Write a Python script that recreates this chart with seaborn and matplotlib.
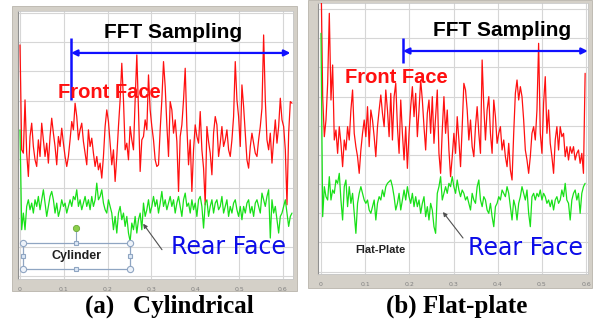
import numpy as np
import pandas as pd
import matplotlib
matplotlib.use("Agg")
import matplotlib.pyplot as plt
import seaborn as sns
from matplotlib.patches import Rectangle
from matplotlib.ticker import MultipleLocator

# ---------------- data ----------------
front_a = [69.5, 38, 37, 53, 37, 30, 42, 46, 39, 35, 33, 41, 36, 46, 41, 36, 40, 34, 42, 47.5,
           43, 39, 33.5, 42, 39, 44.5, 40, 36, 33, 36, 41, 46.5, 44, 52, 48, 41, 44, 46, 40.5, 37,
           33.5, 44, 39, 41.5, 37, 33, 36, 32, 34, 29.5, 36, 45, 50, 46.5, 40, 33.5, 38, 28.5, 36, 45,
           53, 64, 53, 38, 40, 35, 45, 41, 38, 53, 66.5, 50, 31.5, 41, 42, 47, 44, 60.5, 50, 45,
           41, 35, 33, 33.5, 44, 53, 64.5, 57, 45.5, 36, 52.5, 50, 43, 47, 40.5, 25.5, 42, 45.5, 53, 62.5,
           45, 33.5, 41, 25.5, 38, 45.5, 42, 40, 49.5, 38, 32.5, 21.5, 45, 40.5, 37, 30.5, 43, 48, 45.5, 36,
           40, 45, 39, 41, 44, 38, 36, 41, 48, 64.5, 53, 48, 39, 57.5, 51, 43, 35, 32.5, 39, 43,
           40, 37, 36, 41, 45, 50.5, 72.5, 53, 41, 38, 43, 34, 41, 47, 40, 45, 53.5, 47, 45, 38,
           21.5, 43, 52.5, 52]
rear_a = [44, 14, 19, 14, 21, 23, 20, 22, 19, 23, 21, 24, 20, 23, 26, 22, 18, 21, 24, 25.5,
          23, 19, 22, 18, 20, 23, 21, 22, 19, 21, 23, 21, 24, 23, 26, 21, 23, 20, 22, 24,
          21, 23, 20, 24, 21, 23, 28, 23, 24, 26, 22, 20, 19, 23, 21, 19, 14, 18, 13, 19,
          21, 17, 19, 15, 18, 13, 10.5, 16, 14, 18, 13, 17, 19, 14, 22, 18, 20, 23, 19, 21,
          24, 21, 23, 19, 22, 25.5, 21, 23, 20, 22, 24, 21, 23, 19, 22, 24, 21, 18, 23, 25,
          21, 22, 19, 23, 20, 22, 18, 23, 24, 21, 14.5, 22, 23, 18, 21, 23, 19, 22, 23, 20,
          21, 24, 19, 21, 23, 18, 21, 19, 22, 23, 20, 18, 21, 17, 21, 19, 22, 23, 19, 21,
          18, 22, 23, 21, 19, 25, 23, 21, 24, 26, 11.5, 23, 19, 21, 17, 13, 18, 19, 21, 23,
          19, 15, 18, 19]
front_b = [90, 52.5, 40.5, 45.5, 56.5, 77.5, 51.5, 62, 39.5, 42.5, 35.5, 43.5, 38.5, 31.5, 39.5, 36.5,
           43.5, 39.5, 48.5, 54.5, 41.5, 37.5, 34.5, 29.5, 36.5, 41.5, 45.5, 40.5, 49.5, 37.5, 48.5, 45.5,
           40.5, 34.5, 43.5, 48.5, 53, 47.5, 43.5, 54.5, 48.5, 40.5, 53.5, 39.5, 52.5, 56.5, 43.5, 35.5,
           51.5, 41.5, 33.5, 43.5, 31, 41.5, 49.5, 55.5, 46.5, 53.5, 40.5, 48.5, 57.5, 51.5, 43.5, 36.5,
           47.5, 51.5, 41.5, 52.5, 38.5, 46.5, 54.5, 35.5, 29.5, 42.5, 52.5, 41.5, 48.5, 36.5, 28.5, 34.5,
           41.5, 35.5, 46.5, 39.5, 31.5, 43.5, 56.5, 54.5, 48.5, 39.5, 45.5, 37.5, 34.5, 43.5, 49.5, 41.5,
           35.5, 63.5, 49.5, 39.5, 48.5, 52.5, 41.5, 35.5, 51.5, 46.5, 38.5, 41.5, 43.5, 36.5, 39.5, 34.5,
           31.5, 38.5, 30.5, 27.5, 41.5, 53.5, 57.5, 51.5, 55.5, 52.5, 45.5, 36.5, 33.5, 29.5, 34.5, 41.5,
           43.5, 39.5, 48.5, 68.5, 41.5, 35.5, 50.5, 58.5, 41.5, 48.5, 38.5, 34.5, 29.5, 39.5, 43.5, 36.5,
           43.5, 40.5, 41.5, 34.5, 37.5, 33.5, 37.5, 35.5, 37.5, 33.5, 35.5, 36.5, 32.5, 35.5, 29.5, 59.5]
rear_b = [71.5, 16.5, 25.5, 22.5, 21.5, 28.5, 21.5, 24.5, 23.5, 27.5, 26.5, 29.5, 21.5, 15.5, 25.5, 27.5,
          19.5, 25.5, 20.5, 23.5, 17.5, 11.5, 20.5, 23.5, 25.5, 23.5, 21.5, 20.5, 21.5, 18.5, 17.5, 19.5,
          21.5, 15.5, 20.5, 22.5, 21.5, 24.5, 22.5, 25.5, 26.5, 27, 27.5, 25.5, 22.5, 18.5, 20.5, 23.5,
          18.5, 21.5, 24.5, 21.5, 25.5, 22.5, 20.5, 23.5, 19.5, 22.5, 19.5, 21.5, 17.5, 20.5, 22.5, 16.5,
          19.5, 15.5, 20.5, 18.5, 13.5, 11.5, 23.5, 25.5, 28.5, 21.5, 23.5, 25.5, 23.5, 26.5, 25.5, 28.5,
          25.5, 23.5, 27.5, 24.5, 22.5, 24.5, 23.5, 21.5, 22.5, 20.5, 18.5, 23.5, 21.5, 20.5, 25.5, 27.5,
          21.5, 19.5, 22.5, 21.5, 18.5, 17.5, 20.5, 16.5, 13.5, 19.5, 20.5, 22.5, 21.5, 24.5, 23.5, 22.5,
          25.5, 23.5, 19.5, 15.5, 21.5, 19.5, 15.5, 20.5, 22.5, 25.5, 23.5, 21.5, 24.5, 17.5, 13.5, 22.5,
          23.5, 21.5, 23.5, 22.5, 24.5, 21.5, 23.5, 22.5, 20.5, 21.5, 19.5, 21.5, 18.5, 21.5, 22.5, 20.5,
          21.5, 24.5, 22.5, 26.5, 21.5, 20.5, 15.5, 21.5, 23.5, 24.5, 21.5, 23.5, 17.5, 23.5, 25.5, 26.5]
t_end_a = 0.6207   # last sample time (s), panel a
t_end_b = 0.598    # last sample time (s), panel b
x_ticks = [0, 0.1, 0.2, 0.3, 0.4, 0.5, 0.6]
x_tick_labels = ["0", "0.1", "0.2", "0.3", "0.4", "0.5", "0.6"]
captions = ["(a)   Cylindrical", "(b) Flat-plate"]
shape_labels = ["Cylinder", "Flat-Plate"]

# ---------------- style ----------------
sns.set_style("white")
plt.rcParams['font.family'] = ['DejaVu Sans']
BOLD_SANS = ['Liberation Sans', 'DejaVu Sans']

W, H = 593, 324
fig = plt.figure(figsize=(W / 100, H / 100), dpi=100)
fig.patch.set_facecolor('white')


def frac(x0, y0, x1, y1):
    return [x0 / W, 1 - y1 / H, (x1 - x0) / W, (y1 - y0) / H]


# grey window frames (behind the axes)
for (x0, y0, x1, y1) in [(12, 6, 297, 291), (308, 0, 592, 288)]:
    fig.patches.append(Rectangle((x0 / W, 1 - y1 / H), (x1 - x0) / W, (y1 - y0) / H,
                                 transform=fig.transFigure, facecolor='#d4d0c8',
                                 edgecolor='#b8b4ac', lw=0.6, zorder=-5))

axA = fig.add_axes(frac(18, 11, 293, 279), zorder=2)
axB = fig.add_axes(frac(318, 3, 588, 274), zorder=2)

RED = '#ff1010'
GREEN = '#19e019'
BLUE = '#1010ff'


def setup(ax, xlim, ylim, grid_step):
    ax.set_facecolor('white')
    ax.set_xlim(*xlim)
    ax.set_ylim(*ylim)
    ax.set_xticks(x_ticks)
    ax.set_xticklabels(x_tick_labels)
    ax.xaxis.set_minor_locator(MultipleLocator(0.02))
    ax.yaxis.set_major_locator(MultipleLocator(grid_step))
    ax.yaxis.set_minor_locator(MultipleLocator(grid_step / 3))
    ax.grid(True, which='major', color='#d6d6d6', lw=0.8)
    ax.tick_params(axis='x', which='major', direction='out', length=3, width=0.6,
                   color='#606060', labelsize=4.5, labelcolor='#808080', pad=2.5)
    ax.tick_params(axis='x', which='minor', direction='out', length=1.8, width=0.5, color='#606060')
    ax.tick_params(axis='y', which='major', direction='out', length=3, width=0.6,
                   color='#606060', labelleft=False)
    ax.tick_params(axis='y', which='minor', direction='out', length=1.8, width=0.5, color='#606060')
    for s in ['top', 'right', 'bottom']:
        ax.spines[s].set_color('#c8c8c8')
        ax.spines[s].set_linewidth(0.6)
    ax.spines['left'].set_color('#909090')
    ax.spines['left'].set_linewidth(0.8)
    ax.set_xlabel('')
    ax.set_ylabel('')


def draw(ax, front, rear, t_end):
    dfr = pd.DataFrame({'t': np.linspace(0, t_end, len(front)), 'v': front})
    dre = pd.DataFrame({'t': np.linspace(0, t_end, len(rear)), 'v': rear})
    sns.lineplot(data=dfr, x='t', y='v', ax=ax, color=RED, lw=0.9, zorder=3)
    sns.lineplot(data=dre, x='t', y='v', ax=ax, color=GREEN, lw=0.9, zorder=3)


draw(axA, front_a, rear_a, t_end_a)
draw(axB, front_b, rear_b, t_end_b)
setup(axA, (-0.0046, 0.623), (-0.8, 79.7), 8.8)
setup(axB, (-0.0068, 0.6045), (-0.7, 80.6), 8.75)


def annotate(ax, fft_xy, vline_x, vline_y, arrow_y, arrow_x1, front_xy, rear_xy, ptr_from, ptr_to):
    ax.text(*fft_xy, "FFT Sampling", ha='center', va='center', fontsize=15,
            weight='bold', color='black', family=BOLD_SANS, zorder=6)
    ax.plot([vline_x, vline_x], vline_y, color=BLUE, lw=1.8, zorder=5, solid_capstyle='butt')
    ax.annotate('', xy=(arrow_x1, arrow_y), xytext=(vline_x, arrow_y),
                arrowprops=dict(arrowstyle='<|-|>', color=BLUE, lw=1.6,
                                mutation_scale=9, shrinkA=0, shrinkB=0), zorder=5)
    ax.text(*front_xy, "Front Face", ha='center', va='center', fontsize=14.5,
            weight='bold', color=RED, family=BOLD_SANS, zorder=6)
    ax.text(*rear_xy, "Rear Face", ha='center', va='center', fontsize=17,
            color='#0c0ce8', family=['DejaVu Sans'], zorder=6)
    ax.annotate('', xy=ptr_to, xytext=ptr_from,
                arrowprops=dict(arrowstyle='-|>', color='#505050', lw=0.8,
                                mutation_scale=6, shrinkA=0, shrinkB=0), zorder=6)


annotate(axA, (0.349, 73.1), 0.1164, (71.6, 53.0), 67.1, 0.617,
         (0.203, 55.1), (0.475, 8.9), (0.324, 8.0), (0.281, 15.8))
annotate(axB, (0.41, 72.5), 0.1856, (70.1, 62.6), 66.2, 0.604,
         (0.170, 58.1), (0.462, 7.1), (0.3215, 10.1), (0.276, 17.9))

# "Cylinder" selection box with handles
bx0, bx1, by0, by1 = 0.0068, 0.251, 2.3, 10.1
bxm, bym = (bx0 + bx1) / 2, (by0 + by1) / 2
axA.plot([bx0, bx1, bx1, bx0, bx0], [by0, by0, by1, by1, by0], color='#8fa5c2', lw=0.9, zorder=6)
axA.plot([bxm, bxm], [by1, 14.6], color='#8fa5c2', lw=0.8, zorder=6)
axA.plot([bx0, bx1, bx0, bx1], [by0, by0, by1, by1], 'o', ms=4.5, mfc='#eef3fa',
         mec='#8fa5c2', mew=0.8, zorder=7)
axA.plot([bxm, bxm, bx0, bx1], [by0, by1, bym, bym], 's', ms=3.5, mfc='#dce8f6',
         mec='#8fa5c2', mew=0.8, zorder=7)
axA.plot([bxm], [14.6], 'o', ms=4.5, mfc='#8ccf4a', mec='#6aa838', mew=0.6, zorder=7)
axA.text(bxm, bym, shape_labels[0], ha='center', va='center', fontsize=9,
         weight='bold', color='#202020', family=BOLD_SANS, zorder=7)
axB.text(0.1336, 6.5, shape_labels[1], ha='center', va='center', fontsize=8,
         weight='bold', color='#202020', family=BOLD_SANS, zorder=7)

# captions
fig.text(169 / W, 1 - 306 / H, captions[0], ha='center', va='center',
         family=['Liberation Serif'], weight='bold', fontsize=18, color='black')
fig.text(457 / W, 1 - 306 / H, captions[1], ha='center', va='center',
         family=['Liberation Serif'], weight='bold', fontsize=18, color='black')

fig.savefig('out.png', dpi=100)
